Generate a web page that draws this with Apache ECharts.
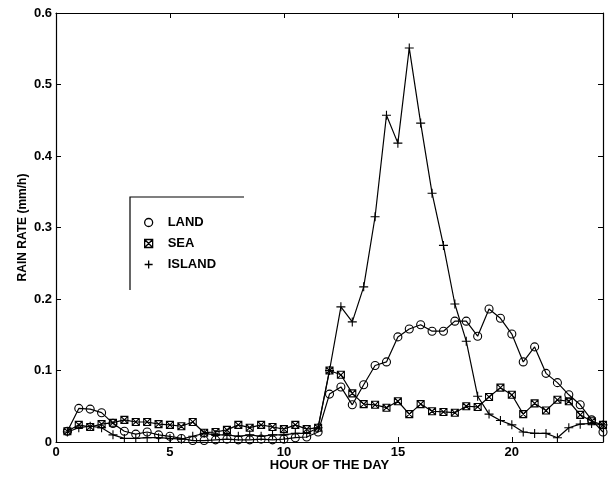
<!DOCTYPE html>
<html><head><meta charset="utf-8">
<script src="https://cdn.jsdelivr.net/npm/echarts@6/dist/echarts.min.js"></script>
<style>html,body{margin:0;padding:0;background:#fff}#c{width:609px;height:482px}</style>
</head><body><div id="c"></div>
<script>
const hours = [0.5,1,1.5,2,2.5,3,3.5,4,4.5,5,5.5,6,6.5,7,7.5,8,8.5,9,9.5,10,10.5,11,11.5,12,12.5,13,13.5,14,14.5,15,15.5,16,16.5,17,17.5,18,18.5,19,19.5,20,20.5,21,21.5,22,22.5,23,23.5,24];
const land = [0.015,0.047,0.046,0.041,0.026,0.015,0.011,0.014,0.010,0.008,0.005,0.002,0.002,0.003,0.004,0.003,0.003,0.004,0.003,0.004,0.006,0.007,0.014,
  0.067,0.077,0.052,0.080,0.107,0.112,0.147,0.158,0.164,0.155,0.155,0.169,0.169,0.148,0.186,0.173,0.151,0.112,0.133,0.096,0.083,0.066,0.052,0.031,0.014];
const sea = [0.015,0.024,0.021,0.025,0.027,0.031,0.028,0.028,0.025,0.024,0.022,0.028,0.013,0.014,0.017,0.024,0.020,0.024,0.021,0.018,0.024,0.018,0.020,
  0.100,0.094,0.068,0.053,0.052,0.048,0.057,0.039,0.053,0.043,0.042,0.041,0.050,0.049,0.063,0.076,0.066,0.039,0.054,0.044,0.059,0.057,0.038,0.029,0.024];
const island = [0.014,0.020,0.022,0.020,0.010,0.005,0.005,0.006,0.006,0.005,0.004,0.008,0.012,0.010,0.010,0.008,0.010,0.008,0.010,0.010,0.012,0.012,0.020,
  0.100,0.189,0.168,0.217,0.315,0.457,0.418,0.551,0.446,0.348,0.275,0.193,0.141,0.064,0.039,0.030,0.024,0.014,0.012,0.012,0.006,0.020,0.025,0.026,0.024];
const seriesNames = ['LAND','SEA','ISLAND'];
const xTitle = 'HOUR OF THE DAY';
const yTitle = 'RAIN RATE (mm/h)';

const FONT = '"Liberation Sans", Arial, Helvetica, sans-serif';
const symCircle = 'circle';
const symSea = 'path://M0,0L10,0L10,10L0,10Z M0,0L10,10 M10,0L0,10';
const symPlus = 'path://M5,0L5,10 M0,5L10,5';
const symbols = [symCircle, symSea, symPlus];

function pair(arr){ return hours.map((h,i)=>[h, arr[i]]); }
function mkSeries(name, data, symbol, size){
  return {
    name, type:'line', data: pair(data), symbol, symbolSize: size,
    showSymbol: true,
    lineStyle:{color:'#000', width:1.2},
    itemStyle:{color:'rgba(0,0,0,0)', borderColor:'#000', borderWidth:1.1},
    emphasis:{disabled:true}, animation:false, z: 3
  };
}
const axisCommonX = {type:'value', min:0, max:24, interval:5,
  axisLine:{show:true, onZero:false, lineStyle:{color:'#000', width:1.2}},
  axisTick:{show:true, inside:true, length:5, lineStyle:{color:'#000'}},
  splitLine:{show:false}};
const axisCommonY = {type:'value', min:0, max:0.6, interval:0.1,
  axisLine:{show:true, onZero:false, lineStyle:{color:'#000', width:1.2}},
  axisTick:{show:true, inside:true, length:5, lineStyle:{color:'#000'}},
  splitLine:{show:false}};

const chart = echarts.init(document.getElementById('c'), null, {renderer:'canvas'});
chart.setOption({
  animation:false,
  backgroundColor:'#fff',
  grid:{left:56, right:6, top:13, bottom:40, containLabel:false},
  xAxis:[
    Object.assign({}, axisCommonX, {position:'bottom', name:xTitle, nameLocation:'middle', nameGap:17, nameMoveOverlap:false,
      nameTextStyle:{fontFamily:FONT, fontWeight:'bold', fontSize:13, color:'#000'},
      axisLabel:{show:true, showMaxLabel:false, margin:4, fontFamily:FONT, fontWeight:'bold', fontSize:13, color:'#000'}}),
    Object.assign({}, axisCommonX, {position:'top', axisLabel:{show:false}})
  ],
  yAxis:[
    Object.assign({}, axisCommonY, {position:'left', name:yTitle, nameLocation:'middle', nameGap:27, nameRotate:90, nameMoveOverlap:false,
      nameTextStyle:{fontFamily:FONT, fontWeight:'bold', fontSize:12, color:'#000'},
      axisLabel:{show:true, margin:4, fontFamily:FONT, fontWeight:'bold', fontSize:13, color:'#000',
        formatter:(v)=> v===0 ? '0' : v.toFixed(1)}}),
    Object.assign({}, axisCommonY, {position:'right', axisLabel:{show:false}})
  ],
  legend:{
    orient:'vertical', left:139, top:211, itemWidth:8, itemHeight:8, itemGap:8,
    data: seriesNames.map((n,i)=>({name:n, icon:symbols[i],
      itemStyle:{color:'rgba(0,0,0,0)', borderColor:'#000', borderWidth:1.3}})),
    textStyle:{fontFamily:FONT, fontWeight:'bold', fontSize:13, color:'#000', padding:[0,0,0,10]},
    selectedMode:false
  },
  graphic:[{type:'polyline', shape:{points:[[244,197],[130,197],[130,290]]}, style:{stroke:'#000', lineWidth:1.2, fill:null}, z:10}],
  series:[
    mkSeries(seriesNames[0], land, symCircle, 8),
    mkSeries(seriesNames[1], sea, symSea, 7),
    mkSeries(seriesNames[2], island, symPlus, 9)
  ]
});
</script></body></html>
